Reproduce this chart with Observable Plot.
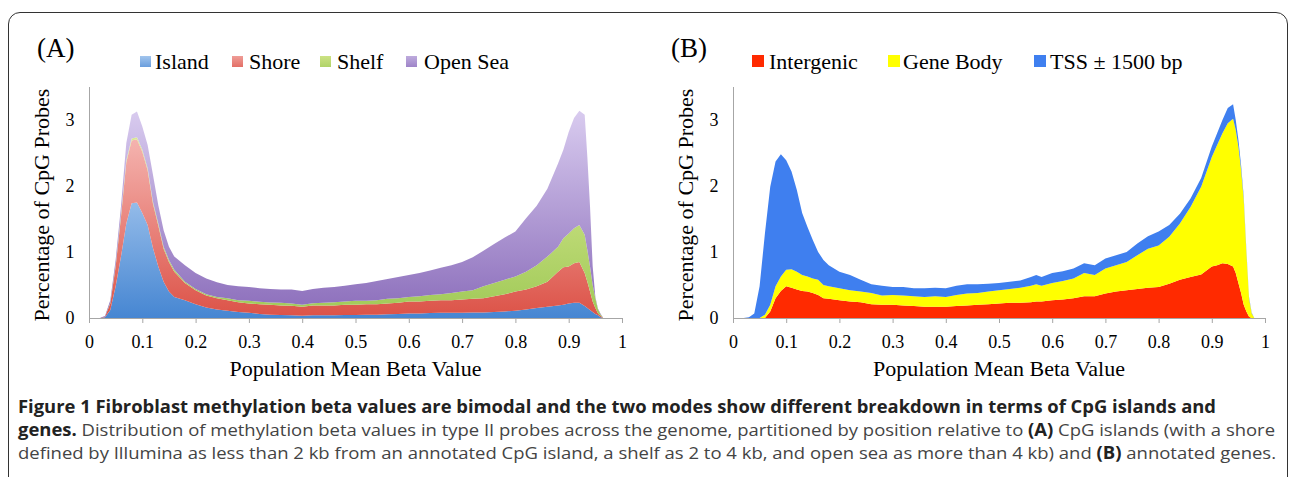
<!DOCTYPE html>
<html><head><meta charset="utf-8">
<script src="https://cdn.jsdelivr.net/npm/d3@7"></script>
<script src="https://cdn.jsdelivr.net/npm/@observablehq/plot@0.6"></script>
<style>
html,body{margin:0;padding:0;background:#fff;overflow:hidden;}
#root{position:relative;width:1290px;height:477px;overflow:hidden;}
#root > *{position:absolute;}
</style></head><body><div id="root"></div>
<script>
// ---------- Panel A: CpG island context ----------
const betaA = [0,0.02,0.03,0.04,0.05,0.06,0.07,0.08,0.09,0.10,0.11,0.12,0.13,0.14,0.15,0.16,0.18,0.20,0.22,0.24,0.26,0.28,0.30,0.32,0.34,0.36,0.38,0.40,0.42,0.44,0.46,0.48,0.50,0.52,0.54,0.56,0.58,0.60,0.62,0.64,0.66,0.68,0.70,0.72,0.74,0.76,0.78,0.80,0.82,0.84,0.86,0.88,0.89,0.90,0.91,0.92,0.93,0.935,0.94,0.945,0.95,0.955,0.96,0.965,1.0];
const island  = [0,0,0.01,0.12,0.48,0.93,1.43,1.74,1.75,1.59,1.41,1.06,0.78,0.55,0.40,0.32,0.27,0.21,0.16,0.13,0.11,0.09,0.08,0.06,0.05,0.045,0.04,0.035,0.04,0.04,0.04,0.045,0.045,0.05,0.05,0.055,0.06,0.07,0.07,0.075,0.08,0.08,0.08,0.085,0.085,0.09,0.10,0.11,0.13,0.15,0.17,0.19,0.20,0.22,0.23,0.23,0.18,0.15,0.12,0.09,0.06,0.04,0.01,0,0];
const shore   = [0,0,0.01,0.10,0.30,0.60,0.93,0.95,0.96,0.93,0.83,0.67,0.62,0.50,0.45,0.38,0.26,0.21,0.18,0.17,0.16,0.15,0.14,0.15,0.15,0.145,0.145,0.135,0.15,0.15,0.15,0.155,0.155,0.16,0.16,0.165,0.17,0.18,0.18,0.185,0.19,0.19,0.20,0.205,0.215,0.24,0.26,0.29,0.30,0.33,0.38,0.51,0.57,0.56,0.60,0.62,0.50,0.40,0.28,0.16,0.09,0.03,0.02,0,0];
const shelf   = [0,0,0,0.01,0.02,0.03,0.03,0.03,0.03,0.03,0.03,0.03,0.03,0.03,0.03,0.03,0.02,0.02,0.02,0.02,0.03,0.03,0.04,0.035,0.035,0.04,0.035,0.03,0.035,0.04,0.05,0.05,0.06,0.05,0.06,0.07,0.07,0.07,0.08,0.09,0.09,0.11,0.12,0.13,0.18,0.20,0.22,0.23,0.27,0.32,0.38,0.38,0.44,0.50,0.53,0.56,0.58,0.48,0.38,0.25,0.15,0.06,0.02,0,0];
const openSea = [0,0,0.01,0.04,0.08,0.13,0.26,0.36,0.39,0.35,0.35,0.41,0.28,0.25,0.20,0.20,0.25,0.24,0.24,0.22,0.20,0.21,0.21,0.205,0.205,0.20,0.21,0.21,0.215,0.23,0.23,0.24,0.25,0.27,0.29,0.30,0.32,0.33,0.35,0.37,0.40,0.42,0.45,0.50,0.54,0.59,0.64,0.68,0.81,0.90,1.03,1.26,1.34,1.54,1.67,1.73,1.82,1.41,0.91,0.28,0.02,0.01,0.01,0,0];
const seriesA = ["Island","Shore","Shelf","Open Sea"];

// ---------- Panel B: gene context ----------
const betaB = [0,0.02,0.03,0.04,0.05,0.06,0.07,0.08,0.09,0.10,0.11,0.12,0.13,0.14,0.15,0.16,0.17,0.18,0.20,0.22,0.24,0.26,0.28,0.30,0.32,0.34,0.36,0.38,0.40,0.42,0.44,0.46,0.48,0.50,0.52,0.54,0.56,0.57,0.58,0.60,0.62,0.64,0.66,0.68,0.70,0.72,0.74,0.76,0.78,0.80,0.82,0.84,0.86,0.88,0.90,0.91,0.92,0.93,0.94,0.945,0.95,0.955,0.96,0.965,0.97,0.975,0.98,1.0];
const intergenic = [0,0,0,0,0,0,0.10,0.30,0.41,0.48,0.46,0.43,0.41,0.40,0.38,0.35,0.30,0.29,0.27,0.25,0.24,0.21,0.20,0.20,0.19,0.18,0.17,0.17,0.17,0.18,0.19,0.20,0.21,0.22,0.23,0.23,0.24,0.25,0.25,0.27,0.28,0.30,0.33,0.33,0.37,0.40,0.42,0.44,0.46,0.47,0.52,0.58,0.62,0.66,0.78,0.80,0.83,0.82,0.78,0.68,0.53,0.38,0.20,0.10,0.02,0,0,0];
const geneBody   = [0,0,0,0,0,0.05,0.10,0.18,0.22,0.25,0.28,0.27,0.24,0.23,0.22,0.23,0.20,0.19,0.18,0.17,0.16,0.17,0.14,0.15,0.15,0.15,0.15,0.16,0.15,0.17,0.18,0.18,0.19,0.20,0.21,0.23,0.25,0.26,0.24,0.26,0.28,0.30,0.35,0.32,0.38,0.40,0.43,0.51,0.59,0.63,0.71,0.85,1.06,1.33,1.66,1.82,1.97,2.13,2.24,2.17,2.07,1.87,1.60,0.90,0.28,0.07,0,0];
const tss        = [0,0,0.01,0.07,0.48,1.23,1.79,1.89,1.85,1.66,1.48,1.24,0.94,0.75,0.58,0.42,0.38,0.32,0.25,0.23,0.18,0.13,0.15,0.12,0.13,0.12,0.13,0.13,0.13,0.14,0.14,0.13,0.12,0.11,0.11,0.11,0.13,0.14,0.13,0.15,0.15,0.15,0.15,0.15,0.15,0.15,0.15,0.18,0.19,0.21,0.18,0.15,0.13,0.13,0.16,0.18,0.20,0.23,0.22,0.15,0.10,0.07,0.04,0.03,0.02,0.01,0,0];
const seriesB = ["Intergenic","Gene Body","TSS ± 1500 bp"];

// ---------- axes ----------
const xTicks = [0,0.1,0.2,0.3,0.4,0.5,0.6,0.7,0.8,0.9,1];
const xTickLabels = ["0","0.1","0.2","0.3","0.4","0.5","0.6","0.7","0.8","0.9","1"];
const yTicks = [0,1,2,3];
const yTickLabels = ["0","1","2","3"];
const xTitle = "Population Mean Beta Value";
const yTitle = "Percentage of CpG Probes";
const panelLabels = ["(A)","(B)"];

// ---------- caption ----------
const captionLines = [
  [["Figure 1 Fibroblast methylation beta values are bimodal and the two modes show different breakdown in terms of CpG islands and", true]],
  [["genes.", true],[" Distribution of methylation beta values in type II probes across the genome, partitioned by position relative to ", false],["(A)", true],[" CpG islands (with a shore", false]],
  [["defined by Illumina as less than 2 kb from an annotated CpG island, a shelf as 2 to 4 kb, and open sea as more than 4 kb) and ", false],["(B)", true],[" annotated genes.", false]]
];

// ---------- styling ----------
const gradA = {
  "Island":   ["#d4e7fc","#4686d2"],
  "Shore":    ["#f9c5c2","#dc5247"],
  "Shelf":    ["#e4ef9c","#9fc957"],
  "Open Sea": ["#dacdf0","#8a6cba"]
};
const colorsB = ["#ff2a00","#ffff00","#3f7fef"];
const serif = "'Liberation Serif','Times New Roman',serif";
const axisGray = "#a6a6a6";

const root = document.getElementById("root");

function longTable(betas, series, values) {
  const rows = [];
  series.forEach((s, k) => betas.forEach((b, i) => rows.push({beta: b, value: values[k][i], series: s})));
  return rows;
}
const rowsA = longTable(betaA, seriesA, [island, shore, shelf, openSea]);
const rowsB = longTable(betaB, seriesB, [intergenic, geneBody, tss]);

function panel(rows, series, fills, ml, mr) {
  return Plot.plot({
    width: 645, height: 380,
    marginLeft: ml, marginRight: mr, marginTop: 87, marginBottom: 62,
    style: {fontFamily: serif, fontSize: "18px", color: "#000", background: "transparent", overflow: "visible"},
    x: {domain: [0, 1]},
    y: {domain: [0, 3.5]},
    color: {domain: series, range: fills},
    marks: [
      Plot.areaY(rows, {x: "beta", y: "value", fill: "series", z: "series", curve: "linear"}),
      Plot.ruleY([0], {stroke: axisGray}),
      Plot.ruleX([0], {stroke: axisGray}),
      Plot.axisX({ticks: xTicks, tickFormat: (d, i) => xTickLabels[i], tickSize: 5, tickPadding: 12, stroke: axisGray, fill: "#000", label: null}),
      Plot.axisY({ticks: yTicks, tickFormat: (d, i) => yTickLabels[i], tickSize: 0, tickPadding: 15, fill: "#000", label: null})
    ]
  });
}

// frame
const frame = document.createElement("div");
Object.assign(frame.style, {left: "8px", top: "12px", width: "1280px", height: "500px", border: "1.5px solid #333", borderRadius: "12px", boxSizing: "border-box"});
root.appendChild(frame);

// gradient defs
const defsSvg = d3.create("svg").attr("width", 0).attr("height", 0).style("left", "0px").style("top", "0px");
const defs = defsSvg.append("defs");
root.appendChild(defsSvg.node());

const urlsA = seriesA.map((s, i) => `url(#gradA${i})`);
const pA = panel(rowsA, seriesA, urlsA, 89, 23);
const ys = pA.scale("y");
seriesA.forEach((s, i) => {
  const g = defs.append("linearGradient").attr("id", `gradA${i}`).attr("gradientUnits", "userSpaceOnUse")
    .attr("x1", 0).attr("x2", 0).attr("y1", ys.apply(3.2)).attr("y2", ys.apply(0));
  g.append("stop").attr("offset", 0).attr("stop-color", gradA[s][0]);
  g.append("stop").attr("offset", 1).attr("stop-color", gradA[s][1]);
  const lg = defs.append("linearGradient").attr("id", `legA${i}`).attr("x1", 0).attr("x2", 0).attr("y1", 0).attr("y2", 1);
  lg.append("stop").attr("offset", 0).attr("stop-color", d3.interpolateRgb(gradA[s][0], gradA[s][1])(0.35));
  lg.append("stop").attr("offset", 1).attr("stop-color", d3.interpolateRgb(gradA[s][0], gradA[s][1])(0.75));
});
pA.style.left = "0px"; pA.style.top = "0px";
root.appendChild(pA);

const pB = panel(rowsB, seriesB, colorsB, 88, 25);
pB.style.left = "645px"; pB.style.top = "0px";
root.appendChild(pB);

// overlay: titles, legends, axis titles, caption
const ov = d3.create("svg").attr("width", 1290).attr("height", 477).style("left", "0px").style("top", "0px");
root.appendChild(ov.node());

function txt(x, y, s, size, opts = {}) {
  const t = ov.append("text").attr("x", x).attr("y", y).text(s)
    .style("font-family", opts.family || serif).style("font-size", size + "px").attr("fill", opts.fill || "#000");
  if (opts.anchor) t.attr("text-anchor", opts.anchor);
  return t;
}
txt(37, 57, panelLabels[0], 27);
txt(671, 57, panelLabels[1], 27);

const legA = [[140,155],[232,249],[320,337],[406,424]];
seriesA.forEach((s, i) => {
  ov.append("rect").attr("x", legA[i][0]).attr("y", 56).attr("width", 11).attr("height", 11).attr("fill", `url(#legA${i})`);
  txt(legA[i][1], 69, s, 22);
});
const legB = [[752,769],[888,903],[1034,1050]];
seriesB.forEach((s, i) => {
  ov.append("rect").attr("x", legB[i][0]).attr("y", 55).attr("width", 12).attr("height", 12).attr("fill", colorsB[i]);
  txt(legB[i][1], 69, s, 22);
});

txt(355.5, 376, xTitle, 22, {anchor: "middle"});
txt(999, 376, xTitle, 22, {anchor: "middle"});
txt(0, 0, yTitle, 22, {anchor: "middle"}).attr("transform", "translate(49,205) rotate(-90)");
txt(0, 0, yTitle, 22, {anchor: "middle"}).attr("transform", "translate(693,205) rotate(-90)");

const capFamily = "'Open Sans','Liberation Sans Narrow',sans-serif";
const capBase = [413, 436, 459];
const capLen = [1198, 1257, 1258];
captionLines.forEach((parts, li) => {
  const t = ov.append("text").attr("x", 18).attr("y", capBase[li])
    .attr("textLength", capLen[li]).attr("lengthAdjust", "spacingAndGlyphs")
    .style("font-family", capFamily).style("font-size", "17px");
  parts.forEach(([s, bold]) => {
    t.append("tspan").text(s).attr("font-weight", bold ? "bold" : "normal").attr("fill", bold ? "#222" : "#444");
  });
});
</script></body></html>
